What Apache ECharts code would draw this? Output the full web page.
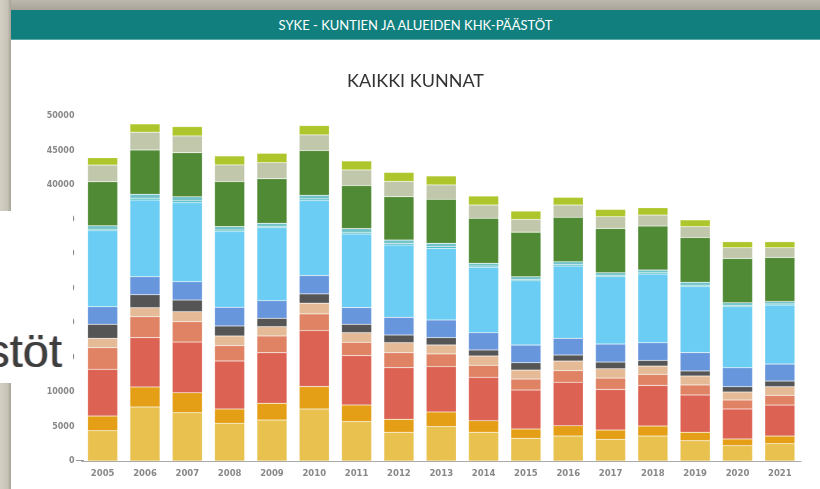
<!DOCTYPE html>
<html>
<head>
<meta charset="utf-8">
<script src="https://cdn.jsdelivr.net/npm/echarts@6/dist/echarts.min.js"></script>
<style>
  html, body { margin: 0; padding: 0; background: #fff; }
  #page { position: relative; width: 820px; height: 489px; overflow: hidden; background: #fff; }
  #topband { position: absolute; left: 0; top: 0; width: 820px; height: 10px;
    background: linear-gradient(to bottom, #bdb8ad, #a9a398); }
  #leftstrip { position: absolute; left: 0; top: 0; width: 11px; height: 489px;
    background: linear-gradient(to right, #d3cfc4, #c6c2b6 70%, #a6a195); }
  #header { position: absolute; left: 11px; top: 10px; width: 809px; height: 30px;
    background: #127f7f; border-bottom: 1px solid #5aa9a9; box-sizing: border-box;
    color: #fff; font-family: Lato, "Open Sans", sans-serif; font-size: 13px;
    line-height: 30px; text-align: center; }
  #chart { position: absolute; left: 11px; top: 40px; width: 809px; height: 449px; }
  #overlay { position: absolute; left: 0; top: 211px; width: 73px; height: 172px; background: #fff; overflow: hidden; }
  #overlay span { position: absolute; right: 11px; top: 116px; font-family: "Liberation Sans", Arial, sans-serif;
    font-size: 47px; line-height: 47px; color: #3e3e3e; white-space: nowrap;
    text-shadow: -1px 0 rgba(40,90,200,0.35), 1px 0 rgba(220,130,30,0.35); }
  #zerotick { position: absolute; left: 76px; top: 460px; width: 8px; height: 1px; background: #999; }
</style>
</head>
<body>
<div id="page">
  <div id="topband"></div>
  <div id="leftstrip"></div>
  <div id="header">SYKE - KUNTIEN JA ALUEIDEN KHK-PÄÄSTÖT</div>
  <div id="chart"></div>
  <div id="zerotick"></div>
  <div id="overlay"><span>päästöt</span></div>
</div>
<script>
  // vuodet
  const years = ["2005", "2006", "2007", "2008", "2009", "2010", "2011", "2012", "2013",
    "2014", "2015", "2016", "2017", "2018", "2019", "2020", "2021"];

  // sarjat alhaalta ylös (kt CO2-ekv, luettu kuvasta)
  const yellow = [4390, 7830, 7000, 5460, 5940, 7540, 5700, 4160, 4980, 4160, 3290, 3620, 3140, 3620, 2950, 2220, 2510];
  const orange = [2130, 2900, 2900, 2080, 2420, 3240, 2420, 1880, 2130, 1690, 1350, 1500, 1350, 1450, 1210, 970, 1110];
  const red = [6770, 7150, 7340, 6960, 7340, 8120, 7150, 7490, 6570, 6280, 5650, 6280, 5890, 5890, 5410, 4350, 4490];
  const salmon = [3130, 3040, 2950, 2220, 2420, 2420, 1930, 2170, 1840, 1740, 1590, 1690, 1640, 1590, 1450, 1300, 1400];
  const peach = [1360, 1300, 1450, 1400, 1350, 1550, 1400, 1450, 1300, 1350, 1300, 1400, 1350, 1210, 1300, 1160, 1260];
  const darkGray = [2030, 1880, 1690, 1450, 1210, 1350, 1210, 1110, 1060, 870, 1060, 870, 970, 820, 730, 770, 820];
  const blue = [2550, 2610, 2660, 2710, 2560, 2660, 2420, 2560, 2560, 2510, 2560, 2420, 2610, 2560, 2660, 2750, 2460];
  const lightBlue = [11010, 11120, 11450, 10970, 10580, 10870, 10680, 10480, 10390, 9470, 9320, 10480, 9760, 9950, 9570, 8840, 8550];
  const tealDark = [220, 250, 260, 220, 190, 230, 230, 220, 220, 180, 180, 190, 180, 180, 190, 180, 160];
  const tealLight = [500, 580, 610, 500, 440, 540, 540, 500, 500, 400, 400, 440, 400, 400, 440, 400, 370];
  const green = [6380, 6420, 6380, 6520, 6470, 6470, 6230, 6280, 6380, 6520, 6470, 6420, 6420, 6380, 6470, 6420, 6380];
  const greige = [2420, 2570, 2420, 2420, 2320, 2270, 2270, 2220, 2080, 1930, 1840, 1790, 1690, 1590, 1590, 1550, 1400];
  const lime = [1060, 1200, 1350, 1300, 1350, 1350, 1300, 1300, 1300, 1300, 1210, 1110, 1060, 1060, 970, 870, 870];

  const yTicks = [0, 5000, 10000, 15000, 20000, 25000, 30000, 35000, 40000, 45000, 50000];

  const layers = [
    [yellow, "#e8c14f"],
    [orange, "#e49f17"],
    [red, "#dc6354"],
    [salmon, "#df8364"],
    [peach, "#e5bb97"],
    [darkGray, "#555555"],
    [blue, "#6896dd"],
    [lightBlue, "#6bcdf3"],
    [tealDark, "#2fb2bd"],
    [tealLight, "#72c3c9"],
    [green, "#508a35"],
    [greige, "#c0c7aa"],
    [lime, "#aec62b"]
  ];

  const chart = echarts.init(document.getElementById("chart"));

  chart.setOption({
    animation: false,
    title: {
      text: "KAIKKI KUNNAT",
      left: "center",
      top: 27,
      textStyle: {
        fontFamily: "Lato, 'Open Sans', sans-serif",
        fontSize: 18,
        fontWeight: "normal",
        color: "#333"
      }
    },
    grid: {
      left: 70.5,
      right: 19,
      top: 76,
      bottom: 28
    },
    xAxis: {
      type: "category",
      data: years,
      axisLine: { lineStyle: { color: "#aaa", width: 1 } },
      axisTick: { show: false },
      axisLabel: {
        color: "#888",
        fontSize: 8.5,
        fontWeight: "bold",
        margin: 8,
        fontFamily: "'DejaVu Sans', sans-serif"
      }
    },
    yAxis: {
      type: "value",
      min: yTicks[0],
      max: yTicks[yTicks.length - 1],
      interval: 5000,
      splitLine: { show: false },
      axisLine: { show: false },
      axisTick: { show: false },
      axisLabel: {
        color: "#888",
        fontSize: 8,
        fontWeight: "bold",
        margin: 7,
        fontFamily: "'DejaVu Sans', sans-serif",
        formatter: function (v) { return String(v); }
      }
    },
    series: layers.map(function (l) {
      return {
        type: "bar",
        stack: "total",
        data: l[0],
        barCategoryGap: "29%",
        itemStyle: {
          color: l[1],
          borderColor: "rgba(255,255,255,0.35)",
          borderWidth: 0.5
        }
      };
    })
  });
</script>
</body>
</html>
